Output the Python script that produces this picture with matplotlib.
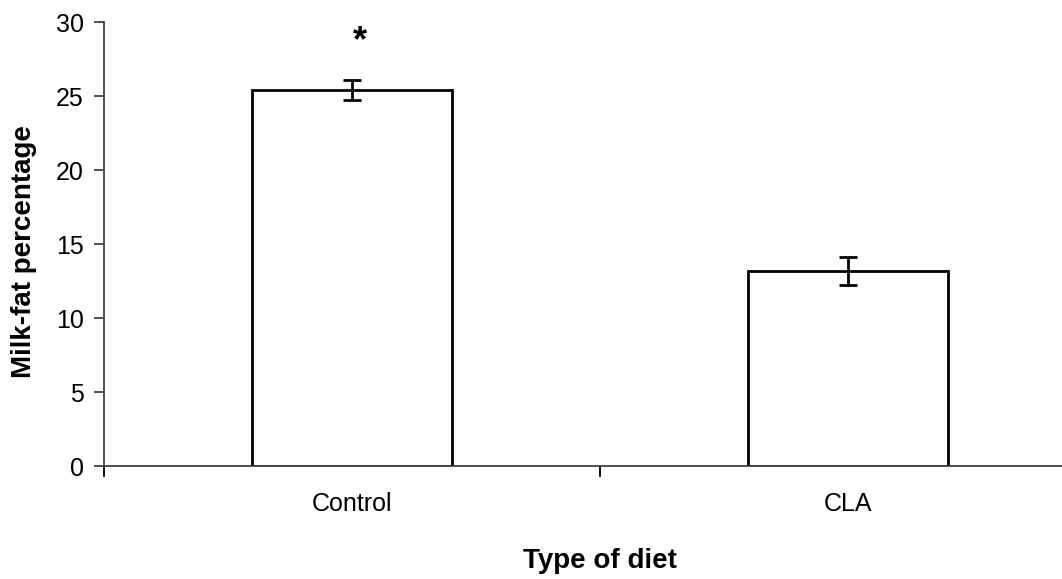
import matplotlib
matplotlib.use("Agg")
import matplotlib.pyplot as plt

categories = ["Control", "CLA"]
values = [25.4, 13.2]
errors = [0.7, 0.95]
yticks = [0, 5, 10, 15, 20, 25, 30]

plt.rcParams['font.family'] = ['Liberation Sans', 'DejaVu Sans']

fig = plt.figure(figsize=(10.62, 5.79), dpi=100)
W, H = 1062, 579
ax = fig.add_axes([104 / W, (H - 466) / H, 992 / W, 444 / H])

pos = [i + 0.5 for i in range(len(categories))]
ax.bar(pos, values, width=0.403, color="white", edgecolor="black", linewidth=2.0, zorder=2)
ax.errorbar(pos, values, yerr=errors, fmt="none", ecolor="black", elinewidth=2.0,
            capsize=6.5, capthick=2.0, zorder=3)
ax.text(pos[0] + 0.016, 28.05, "*", ha="center", va="baseline", fontsize=26, fontweight="bold")

ax.set_xlim(0, len(categories))
ax.set_ylim(0, 30)
ax.set_yticks(yticks)
ax.set_xticks([0, 1, 2])
ax.set_xticklabels([])
ax.set_xticks(pos, minor=True)
ax.set_xticklabels(categories, minor=True)
ax.tick_params(axis="x", which="minor", length=0, pad=19, labelsize=18)
ax.tick_params(axis="x", which="major", length=8, width=1.3, direction="out", color="black")
ax.tick_params(axis="y", length=7, width=1.3, direction="out", labelsize=18, pad=7.5, color="#404040")

for s in ["top", "right"]:
    ax.spines[s].set_visible(False)
for s in ["left", "bottom"]:
    ax.spines[s].set_color("#404040")
    ax.spines[s].set_linewidth(1.3)

fig.text(24 / W, 1 - 252 / H, "Milk-fat percentage", rotation=90, ha="center", va="center",
         fontsize=20, fontweight="bold")
fig.text(600 / W, 1 - 561 / H, "Type of diet", ha="center", va="center", fontsize=20, fontweight="bold")

fig.savefig("out.png", dpi=100)
